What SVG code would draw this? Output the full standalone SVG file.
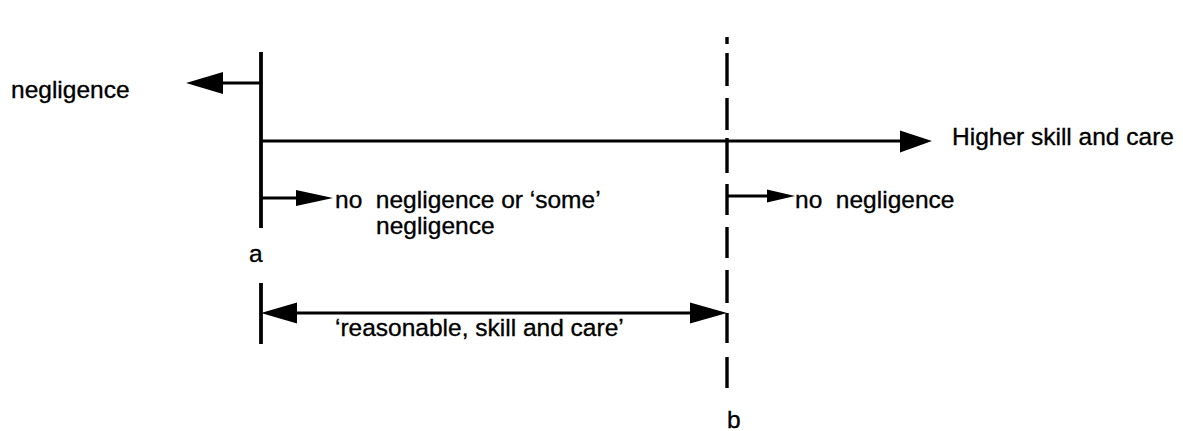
<svg xmlns="http://www.w3.org/2000/svg" width="1183" height="431" viewBox="0 0 1183 431">
  <style>
    .bar { stroke: #000; stroke-width: 3.8; fill: none; }
    .line { stroke: #000; stroke-width: 2.8; fill: none; }
    .dash { stroke: #000; stroke-width: 3.4; fill: none; }
    .head { fill: #000; stroke: none; }
    .lbl { font-family: "Liberation Sans", Arial, Helvetica, sans-serif; font-size: 24.5px; fill: #000; stroke: #000; stroke-width: 0.35; }
  </style>
  <rect width="1183" height="431" fill="#fff"/>

  <!-- point a: solid marker with the bar below -->
  <g id="marker-a">
    <line class="bar" x1="261" y1="52" x2="261" y2="228"/>
    <line class="bar" x1="261" y1="283" x2="261" y2="344"/>
    <text class="lbl" x="249" y="262">a</text>
  </g>

  <!-- point b: dashed marker -->
  <g id="marker-b">
    <path class="dash" d="M727 37V44 M727 53V86 M727 98V130 M727 138V173 M727 184V215 M727 227V258 M727 270V303 M727 313V343 M727 357V388"/>
    <text class="lbl" x="727" y="428">b</text>
  </g>

  <g id="connectors">
    <!-- towards negligence -->
    <line class="line" x1="261" y1="83" x2="220" y2="83"/>
    <polygon class="head" points="186,83 223,72 223,94"/>
    <!-- main scale -->
    <line class="line" x1="261" y1="141" x2="902" y2="141"/>
    <polygon class="head" points="932,141 900,130.5 900,152.5"/>
    <!-- from a -->
    <line class="line" x1="261" y1="198" x2="298" y2="198"/>
    <polygon class="head" points="333,198 296,190 296,206"/>
    <!-- from b -->
    <line class="line" x1="727" y1="196" x2="770" y2="196"/>
    <polygon class="head" points="795,196 767,189.5 767,202.5"/>
    <!-- span a to b -->
    <line class="line" x1="290" y1="313" x2="697" y2="313"/>
    <polygon class="head" points="261,313 297,302.5 297,323.5"/>
    <polygon class="head" points="727,313 690,302.5 690,323.5"/>
  </g>

  <g id="labels">
    <text class="lbl" x="11" y="98">negligence</text>
    <text class="lbl" x="952" y="145">Higher skill and care</text>
    <text class="lbl" x="335" y="208" xml:space="preserve">no  negligence or ‘some’</text>
    <text class="lbl" x="376" y="234">negligence</text>
    <text class="lbl" x="795" y="208" xml:space="preserve">no  negligence</text>
    <text class="lbl" x="335" y="336">‘reasonable, skill and care’</text>
  </g>
</svg>
